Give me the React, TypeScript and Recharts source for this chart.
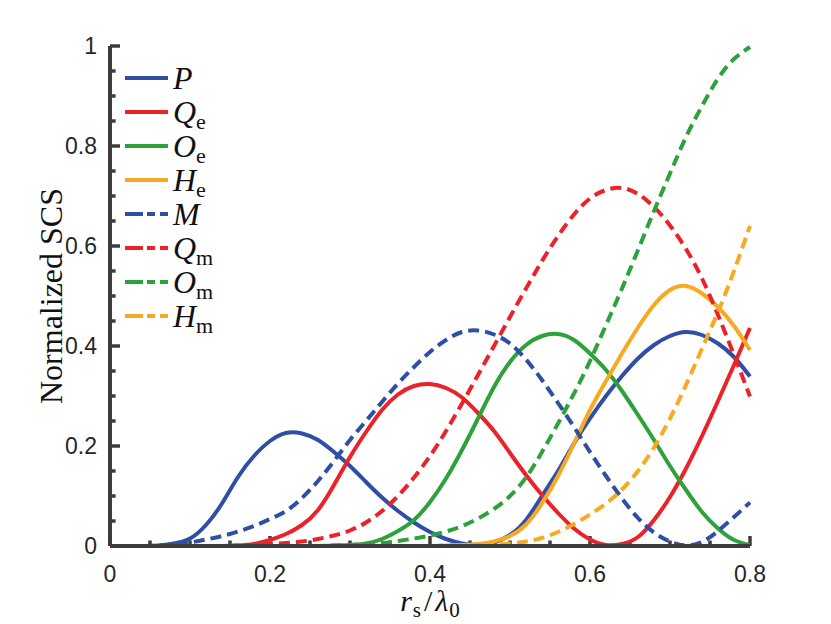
import React from "react";
import { LineChart, Line, XAxis, YAxis, Legend, Label, ReferenceLine } from "recharts";

const xs = [0.02,0.04,0.06,0.08,0.10,0.12,0.14,0.16,0.18,0.20,0.22,0.24,0.26,0.28,0.30,0.32,0.34,0.36,0.38,0.40,0.42,0.44,0.46,0.48,0.50,0.52,0.54,0.56,0.58,0.60,0.62,0.64,0.66,0.68,0.70,0.72,0.74,0.76,0.78,0.80];

const P  = [0,0,0.001,0.005,0.015,0.042,0.085,0.138,0.180,0.210,0.226,0.225,0.212,0.188,0.160,0.128,0.097,0.070,0.047,0.028,0.014,0.005,0.002,0.007,0.022,0.052,0.100,0.150,0.205,0.255,0.300,0.340,0.375,0.402,0.420,0.428,0.422,0.405,0.378,0.339];
const Qe = [0,0,0,0,0,0,0,0.001,0.004,0.012,0.024,0.042,0.072,0.122,0.178,0.228,0.272,0.303,0.320,0.324,0.316,0.297,0.266,0.230,0.186,0.142,0.102,0.066,0.035,0.013,0.002,0.004,0.018,0.052,0.098,0.155,0.220,0.290,0.362,0.436];
const Oe = [0,0,0,0,0,0,0,0,0,0,0,0,0,0.001,0.002,0.005,0.014,0.030,0.052,0.088,0.135,0.192,0.255,0.318,0.368,0.402,0.420,0.424,0.412,0.385,0.352,0.310,0.262,0.212,0.160,0.112,0.068,0.035,0.012,0.002];
const He = [0,0,0,0,0,0,0,0,0,0,0,0,0,0,0,0,0,0,0,0,0.001,0.002,0.004,0.009,0.020,0.043,0.085,0.140,0.205,0.272,0.330,0.385,0.437,0.482,0.512,0.520,0.505,0.478,0.440,0.392];
const M  = [0,0,0.001,0.003,0.007,0.013,0.020,0.029,0.040,0.054,0.070,0.096,0.130,0.170,0.212,0.250,0.288,0.325,0.358,0.388,0.412,0.428,0.431,0.423,0.405,0.373,0.332,0.286,0.238,0.188,0.140,0.095,0.056,0.027,0.009,0.001,0.008,0.030,0.058,0.087];
const Qm = [0,0,0,0,0,0,0,0.001,0.002,0.004,0.006,0.009,0.014,0.021,0.031,0.047,0.070,0.100,0.137,0.180,0.230,0.285,0.342,0.400,0.458,0.515,0.570,0.620,0.663,0.695,0.712,0.716,0.704,0.678,0.641,0.594,0.535,0.462,0.382,0.299];
const Om = [0,0,0,0,0,0,0,0,0,0,0,0,0,0.001,0.002,0.004,0.006,0.010,0.015,0.021,0.029,0.040,0.055,0.074,0.100,0.137,0.188,0.245,0.305,0.370,0.442,0.515,0.592,0.670,0.745,0.818,0.880,0.935,0.974,0.998];
const Hm = [0,0,0,0,0,0,0,0,0,0,0,0,0,0,0,0,0,0,0,0,0.001,0.001,0.002,0.003,0.005,0.009,0.016,0.028,0.044,0.063,0.085,0.113,0.150,0.197,0.255,0.322,0.395,0.468,0.550,0.640];

const xTicks = [0,0.05,0.1,0.15,0.2,0.25,0.3,0.35,0.4,0.45,0.5,0.55,0.6,0.65,0.7,0.75,0.8];
const yTicks = [0,0.05,0.1,0.15,0.2,0.25,0.3,0.35,0.4,0.45,0.5,0.55,0.6,0.65,0.7,0.75,0.8,0.85,0.9,0.95,1];

const BLUE = "#2f4fa6";
const RED = "#ec2229";
const GREEN = "#2fa13a";
const ORANGE = "#f8a921";
const AXIS = "#3c3c3c";
const TICK_TEXT = "#262626";

const seriesDefs = [
  { key: "P", name: "P", sub: "", color: BLUE, dashed: false },
  { key: "Qe", name: "Q", sub: "e", color: RED, dashed: false },
  { key: "Oe", name: "O", sub: "e", color: GREEN, dashed: false },
  { key: "He", name: "H", sub: "e", color: ORANGE, dashed: false },
  { key: "M", name: "M", sub: "", color: BLUE, dashed: true },
  { key: "Qm", name: "Q", sub: "m", color: RED, dashed: true },
  { key: "Om", name: "O", sub: "m", color: GREEN, dashed: true },
  { key: "Hm", name: "H", sub: "m", color: ORANGE, dashed: true },
];

const data = xs.map((x, i) => ({
  x,
  P: P[i], Qe: Qe[i], Oe: Oe[i], He: He[i],
  M: M[i], Qm: Qm[i], Om: Om[i], Hm: Hm[i],
}));

const isMajor = (v: number) => Math.abs(v * 5 - Math.round(v * 5)) < 1e-6;
const fmt = (v: number) => (isMajor(v) ? String(Math.round(v * 10) / 10) : "");

const SERIF = "Liberation Serif";
const SANS = "Liberation Sans";

// inward tick lengths in data units
const X_MAJOR_LEN = 0.02;
const X_MINOR_LEN = 0.011;
const Y_MAJOR_LEN = 0.0125;
const Y_MINOR_LEN = 0.007;

const XTick = (props: any) => {
  const { x, y, payload } = props;
  const v = payload.value;
  if (!isMajor(v)) return <g />;
  return (
    <text x={x} y={y + 36} textAnchor="middle" fontFamily={SANS} fontSize={23} fill={TICK_TEXT}>
      {fmt(v)}
    </text>
  );
};

const YTick = (props: any) => {
  const { x, y, payload } = props;
  const v = payload.value;
  if (!isMajor(v)) return <g />;
  return (
    <text x={x - 13} y={y + 8} textAnchor="end" fontFamily={SANS} fontSize={23} fill={TICK_TEXT}>
      {fmt(v)}
    </text>
  );
};

const renderLegend = () => (
  <svg width={200} height={290} style={{ display: "block" }}>
    {seriesDefs.map((s, i) => {
      const y = 23 + 34 * i;
      return (
        <g key={s.key}>
          <line x1={8} x2={51} y1={y} y2={y} stroke={s.color} strokeWidth={4}
            strokeDasharray={s.dashed ? "18 4 8 5 8" : undefined} />
          <text x={56} y={y + 11} fontFamily={SERIF} fill="#111">
            <tspan fontStyle="italic" fontSize={32}>{s.name}</tspan>
            {s.sub ? <tspan fontSize={22} dy={6}>{s.sub}</tspan> : null}
          </text>
        </g>
      );
    })}
  </svg>
);

const renderYLabel = (props: any) => {
  const vb = props.viewBox || {};
  const cx = vb.x + 2;
  const cy = vb.y + vb.height / 2;
  return (
    <text x={cx} y={cy} transform={`rotate(-90 ${cx} ${cy})`} textAnchor="middle"
      fontFamily={SERIF} fontSize={32} fill="#111">Normalized SCS</text>
  );
};

const renderXLabel = (props: any) => {
  const vb = props.viewBox || {};
  const cx = vb.x + vb.width / 2;
  const by = vb.y + 65;
  return (
    <text x={cx} y={by} textAnchor="middle" fontFamily={SERIF} fill="#111">
      <tspan fontStyle="italic" fontSize={30}>r</tspan>
      <tspan fontSize={21} dy={6} dx={1}>s</tspan>
      <tspan fontSize={30} dy={-6} dx={3}>/</tspan>
      <tspan fontStyle="italic" fontSize={30} dx={3}>λ</tspan>
      <tspan fontSize={21} dy={6} dx={1}>0</tspan>
    </text>
  );
};

export default function App() {
  return (
    <div style={{ position: "absolute", left: 0, top: 0, width: 831, height: 624, background: "#fff" }}>
      <LineChart width={831} height={624} data={data}
        margin={{ top: 46, right: 81, bottom: 38, left: 60 }}>
        <XAxis dataKey="x" type="number" domain={[0, 0.8]} ticks={xTicks}
          interval={0} height={40}
          axisLine={{ stroke: AXIS, strokeWidth: 4 }}
          tickLine={false} tickSize={0} tickMargin={0}
          tick={<XTick />}>
          <Label content={renderXLabel} />
        </XAxis>
        <YAxis type="number" domain={[0, 1]} ticks={yTicks}
          interval={0} width={50}
          axisLine={{ stroke: AXIS, strokeWidth: 4 }}
          tickLine={false} tickSize={0} tickMargin={0}
          tick={<YTick />}>
          <Label content={renderYLabel} />
        </YAxis>
        {xTicks.map((t) => (
          <ReferenceLine key={"xt" + t} segment={[{ x: t, y: 0 }, { x: t, y: isMajor(t) ? X_MAJOR_LEN : X_MINOR_LEN }]}
            stroke={AXIS} strokeWidth={3.5} ifOverflow="visible" />
        ))}
        {yTicks.map((t) => (
          <ReferenceLine key={"yt" + t} segment={[{ x: 0, y: t }, { x: isMajor(t) ? Y_MAJOR_LEN : Y_MINOR_LEN, y: t }]}
            stroke={AXIS} strokeWidth={3.5} ifOverflow="visible" />
        ))}
        <Legend layout="vertical" align="center" verticalAlign="middle" content={renderLegend}
          wrapperStyle={{ left: 117, top: 55, width: 200, height: 290 }} />
        {seriesDefs.map((s) => (
          <Line key={s.key} dataKey={s.key} type="natural" stroke={s.color} strokeWidth={4}
            strokeDasharray={s.dashed ? "11 6" : undefined} dot={false} activeDot={false}
            isAnimationActive={false} legendType="none" />
        ))}
      </LineChart>
    </div>
  );
}
